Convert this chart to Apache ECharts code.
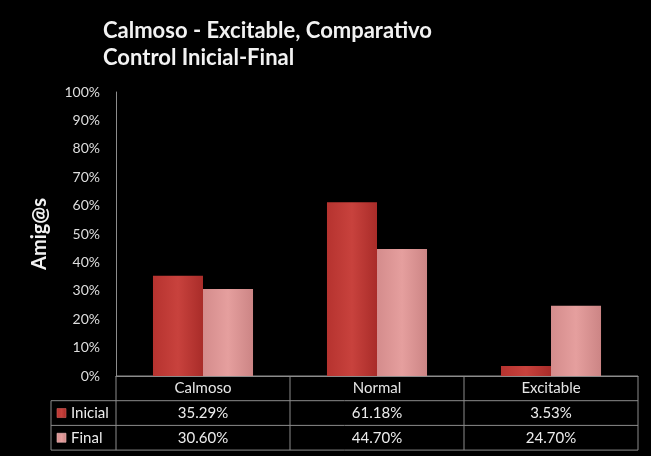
<!DOCTYPE html>
<html>
<head>
<meta charset="utf-8">
<script src="https://cdn.jsdelivr.net/npm/echarts@6/dist/echarts.min.js"></script>
<style>
  html, body { margin: 0; padding: 0; background: #000; }
  #chart { width: 651px; height: 456px; }
</style>
</head>
<body>
<div id="chart"></div>
<script>
// Chart data
const titleLines = ['Calmoso - Excitable, Comparativo', 'Control Inicial-Final'];
const axisName = 'Amig@s';
const categories = ['Calmoso', 'Normal', 'Excitable'];
const seriesNames = ['Inicial', 'Final'];
const inicialValues = [35.29, 61.18, 3.53];
const finalValues = [30.60, 44.70, 24.70];

const FONT = 'Lato, "Open Sans", sans-serif';
const LINE = '#8c8c8c';

// Bar fills: darker red for the first measurement, pink for the second
const fills = [
  new echarts.graphic.LinearGradient(0, 0, 1, 0, [
    { offset: 0, color: '#b6332f' },
    { offset: 0.5, color: '#c8423d' },
    { offset: 1, color: '#a92c29' }
  ]),
  new echarts.graphic.LinearGradient(0, 0, 1, 0, [
    { offset: 0, color: '#d48c8c' },
    { offset: 0.5, color: '#e59f9e' },
    { offset: 1, color: '#cc8585' }
  ])
];
const edgeColors = ['#d9625c', '#f4c0bd'];

const chart = echarts.init(document.getElementById('chart'), null, { renderer: 'canvas' });

function pct(v) { return v.toFixed(2) + '%'; }

chart.setOption({
  backgroundColor: '#000',
  animation: false,
  title: {
    text: titleLines.join('\n'),
    left: 98,
    top: 12,
    textStyle: { color: '#f2f2f2', fontFamily: FONT, fontWeight: 'bold', fontSize: 22, lineHeight: 27 }
  },
  grid: { left: 116, right: 13, top: 92, bottom: 80, containLabel: false },
  xAxis: {
    type: 'category',
    data: categories,
    axisLine: { show: true, lineStyle: { color: LINE, width: 1 } },
    axisTick: { show: false },
    axisLabel: { color: '#e6e6e6', fontFamily: FONT, fontSize: 15, margin: 5 }
  },
  yAxis: {
    type: 'value',
    min: 0,
    max: 100,
    interval: 10,
    name: axisName,
    nameLocation: 'middle',
    nameGap: 66,
    nameRotate: 90,
    nameTextStyle: { color: '#f2f2f2', fontFamily: FONT, fontWeight: 'bold', fontSize: 20 },
    axisLine: { show: true, lineStyle: { color: LINE, width: 1 } },
    axisTick: { show: false },
    splitLine: { show: false },
    axisLabel: { color: '#dedede', fontFamily: FONT, fontSize: 14, margin: 16, formatter: '{value}%' }
  },
  series: [
    {
      name: seriesNames[0],
      type: 'bar',
      data: inicialValues,
      barGap: '0%',
      barCategoryGap: '42.5%',
      itemStyle: { color: fills[0] }
    },
    {
      name: seriesNames[1],
      type: 'bar',
      data: finalValues,
      barGap: '0%',
      barCategoryGap: '42.5%',
      itemStyle: { color: fills[1] }
    }
  ]
});

// Data table under the plot, aligned to the category bands of the x axis
function drawTable() {
  const c0 = chart.convertToPixel({ xAxisIndex: 0 }, 0);
  const c1 = chart.convertToPixel({ xAxisIndex: 0 }, 1);
  const band = c1 - c0;
  const left = c0 - band / 2;
  const right = left + band * categories.length;
  const top = chart.convertToPixel({ yAxisIndex: 0 }, 0);
  const rowH = 24.7;
  const keyLeft = 51;
  const rows = [inicialValues, finalValues];
  const g = [];
  const line = (x1, y1, x2, y2) => g.push({
    type: 'line', silent: true,
    shape: { x1, y1, x2, y2 },
    style: { stroke: LINE, lineWidth: 1 }
  });

  const bottom = top + rowH * (rows.length + 1);
  // horizontal rules
  line(left, top, right, top);
  for (let r = 1; r <= rows.length + 1; r++) {
    line(keyLeft, top + rowH * r, right, top + rowH * r);
  }
  // vertical rules
  for (let k = 0; k <= categories.length; k++) {
    line(left + band * k, top, left + band * k, bottom);
  }
  line(keyLeft, top + rowH, keyLeft, bottom);

  rows.forEach((vals, r) => {
    const cy = top + rowH * (r + 1.5);
    // legend key and series name
    g.push({
      type: 'rect', silent: true,
      shape: { x: keyLeft + 6, y: cy - 4.5, width: 9, height: 9 },
      style: { fill: fills[r], stroke: edgeColors[r], lineWidth: 0.6 }
    });
    g.push({
      type: 'text', silent: true,
      x: keyLeft + 20, y: cy,
      style: { text: seriesNames[r], fill: '#ececec', font: '15px ' + FONT, textVerticalAlign: 'middle', textAlign: 'left' }
    });
    vals.forEach((v, i) => {
      g.push({
        type: 'text', silent: true,
        x: left + band * (i + 0.5), y: cy,
        style: { text: pct(v), fill: '#ececec', font: '15px ' + FONT, textVerticalAlign: 'middle', textAlign: 'center' }
      });
    });
  });

  chart.setOption({ graphic: g });
}
drawTable();
</script>
</body>
</html>
